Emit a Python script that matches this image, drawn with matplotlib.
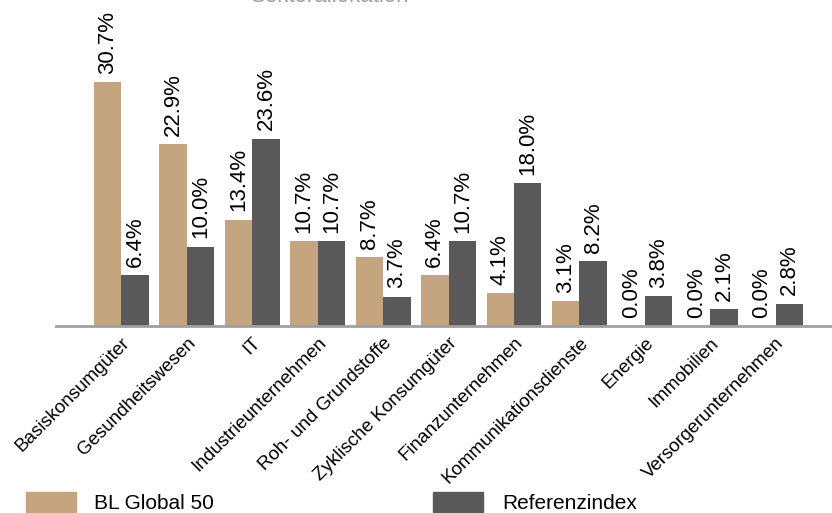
import numpy as np
import matplotlib
matplotlib.use("Agg")
import matplotlib.pyplot as plt
from matplotlib.patches import Patch

plt.rcParams['font.family'] = ['Liberation Sans', 'DejaVu Sans']

# data
sectors = ['Basiskonsumgüter', 'Gesundheitswesen', 'IT', 'Industrieunternehmen',
           'Roh- und Grundstoffe', 'Zyklische Konsumgüter', 'Finanzunternehmen',
           'Kommunikationsdienste', 'Energie', 'Immobilien', 'Versorgerunternehmen']
fund = [30.7, 22.9, 13.4, 10.7, 8.7, 6.4, 4.1, 3.1, 0.0, 0.0, 0.0]
bench = [6.4, 10.0, 23.6, 10.7, 3.7, 10.7, 18.0, 8.2, 3.8, 2.1, 2.8]
series_names = ['BL Global 50', 'Referenzindex']

tan = '#C4A57F'
dark = '#595959'

fig = plt.figure(figsize=(8.32, 5.13), dpi=100)
ax = fig.add_axes([56 / 832, (513 - 326) / 513, 1 - 56 / 832, 326 / 513])

x = np.arange(len(sectors))
w = 0.42
b1 = ax.bar(x - w / 2, fund, w, color=tan)
b2 = ax.bar(x + w / 2, bench, w, color=dark)

for bars, vals in [(b1, fund), (b2, bench)]:
    for rect, v in zip(bars, vals):
        ax.annotate(f'{v:.1f}%', (rect.get_x() + rect.get_width() / 2, v),
                    xytext=(0, 6), textcoords='offset points',
                    rotation=90, ha='center', va='bottom', fontsize=16)

ax.set_xlim(-1.0, 10.86)
ax.set_ylim(0, 41.1)
for s in ['top', 'right', 'left']:
    ax.spines[s].set_visible(False)
ax.spines['bottom'].set_color('#A0A0A0')
ax.spines['bottom'].set_linewidth(2)
ax.set_yticks([])
ax.set_xticks(x)
ax.set_xticklabels(sectors, rotation=45, ha='right', va='top',
                   rotation_mode='anchor', fontsize=13.5)
ax.tick_params(axis='x', length=0, pad=6)

# cut off title at the very top
fig.text(0.397, 1 - 2 / 513, 'Sektorallokation', ha='center', va='baseline',
         color='#A0A0A0', fontsize=16)

handles = [Patch(color=tan), Patch(color=dark)]
fig.legend(handles, series_names, ncol=2, loc='lower left',
           bbox_to_anchor=(7 / 832, -19 / 513), frameon=False, fontsize=15,
           handlelength=2.4, handleheight=1.1, handletextpad=0.9,
           columnspacing=10.5)

fig.savefig('out.png', dpi=100)
